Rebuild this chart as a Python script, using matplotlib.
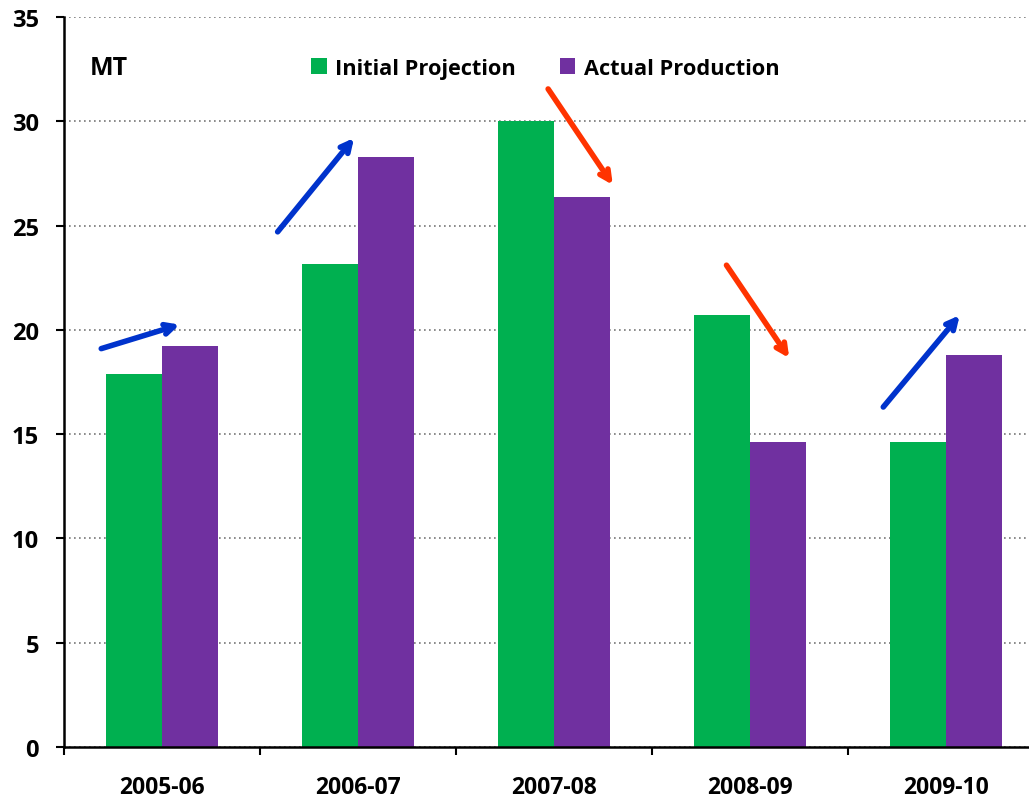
import numpy as np
import matplotlib
matplotlib.use("Agg")
import matplotlib.pyplot as plt

# -------------------------------
# Data
# -------------------------------
years = ["2005-06", "2006-07", "2007-08", "2008-09", "2009-10"]
initial_projection = [17.9, 23.15, 30.0, 20.7, 14.6]
actual_production = [19.25, 28.3, 26.35, 14.6, 18.8]

# arrows (start, end) in data coords, and direction colour
arrows = [
    ((-0.31, 19.1), (0.09, 20.25), "up"),
    ((0.59, 24.7), (0.98, 29.2), "up"),
    ((1.97, 31.55), (2.30, 26.95), "down"),
    ((2.88, 23.1), (3.20, 18.65), "down"),
    ((3.68, 16.3), (4.07, 20.7), "up"),
]

green = "#00B050"
purple = "#7030A0"
arrow_colors = {"up": "#0033CC", "down": "#FF3300"}

plt.rcParams["font.family"] = ["Open Sans", "DejaVu Sans"]
plt.rcParams["font.weight"] = "bold"

fig = plt.figure(figsize=(10.29, 8.04), dpi=100)
ax = fig.add_axes([64 / 1029, 56 / 804, 980 / 1029, 730 / 804])

x = np.arange(len(years))
w = 0.286
ax.bar(x - w / 2, initial_projection, w, color=green, label="Initial Projection", zorder=3)
ax.bar(x + w / 2, actual_production, w, color=purple, label="Actual Production", zorder=3)

ax.set_xlim(-0.5, len(years) - 0.5)
ax.set_ylim(0, 35)
ax.set_yticks(np.arange(0, 36, 5))
ax.yaxis.grid(True, linestyle=(0, (1, 2)), color="#777777", linewidth=1.2, zorder=0)

ax.set_xticks(x)
ax.set_xticklabels(years, fontsize=16.5, fontweight="bold")
ax.set_xticks(np.arange(-0.5, len(years), 1), minor=True)
ax.tick_params(axis="x", which="major", length=0, pad=20)
ax.tick_params(axis="x", which="minor", length=6, width=1.5, direction="out")
ax.tick_params(axis="y", length=6, width=1.5, pad=12, labelsize=17)
for lbl in ax.get_yticklabels():
    lbl.set_fontweight("bold")

for s in ["top", "right"]:
    ax.spines[s].set_visible(False)
for s in ["left", "bottom"]:
    ax.spines[s].set_linewidth(1.8)
    ax.spines[s].set_zorder(4)

for start, end, d in arrows:
    ax.annotate("", xy=end, xytext=start,
                arrowprops=dict(arrowstyle="->,head_length=0.7,head_width=0.35",
                                color=arrow_colors[d], lw=4,
                                shrinkA=0, shrinkB=0),
                zorder=5)

ax.text(-0.37, 32.6, "MT", fontsize=18, fontweight="bold", va="center", ha="left")

ax.legend(loc="center", bbox_to_anchor=(0.530, 0.914), bbox_transform=fig.transFigure,
          ncol=2, frameon=False, handlelength=0.7, handleheight=0.7,
          handletextpad=0.4, columnspacing=2.0, prop={"weight": "bold", "size": 15.7})

fig.savefig("out.png", dpi=100)
